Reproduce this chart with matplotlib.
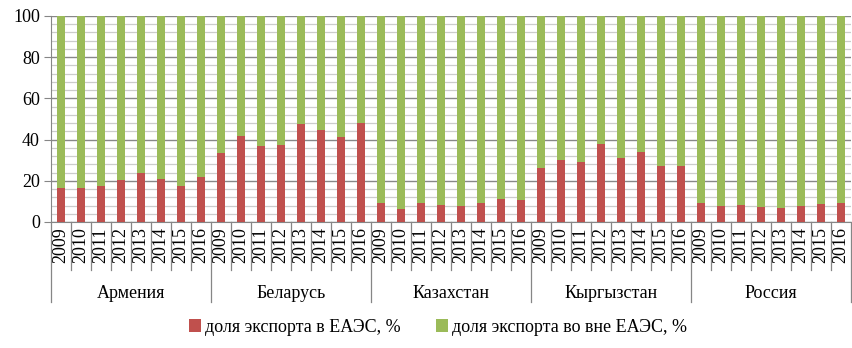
import matplotlib
matplotlib.use("Agg")
import matplotlib.pyplot as plt
from matplotlib.transforms import blended_transform_factory
from matplotlib.lines import Line2D
import numpy as np

countries = ["Армения", "Беларусь", "Казахстан", "Кыргызстан", "Россия"]
years = ["2009", "2010", "2011", "2012", "2013", "2014", "2015", "2016"]
armenia = [16.5, 16.5, 17.4, 20.2, 23.7, 20.8, 17.3, 21.8]
belarus = [33.5, 41.8, 37.0, 37.2, 47.6, 44.7, 41.2, 48.1]
kazakhstan = [9.4, 6.1, 9.4, 8.2, 7.9, 9.0, 11.1, 10.7]
kyrgyzstan = [26.3, 30.2, 29.2, 37.9, 31.0, 34.1, 27.3, 27.1]
russia = [9.0, 7.7, 8.1, 7.4, 6.9, 7.6, 8.6, 9.4]
series_in = "доля экспорта в ЕАЭС, %"
series_out = "доля экспорта во вне ЕАЭС, %"

inside = np.array(armenia + belarus + kazakhstan + kyrgyzstan + russia)
outside = 100 - inside
n = len(inside)
x = np.arange(n)

plt.rcParams['font.family'] = ['Liberation Serif', 'DejaVu Serif']
fig = plt.figure(figsize=(8.52, 3.48), dpi=100)
ax = fig.add_axes([51/852, (348-222)/348, (851-51)/852, 206/348])

red = "#C0504D"
green = "#9BBB59"
ax.bar(x, inside, width=0.37, color=red, label=series_in, zorder=3)
ax.bar(x, outside, width=0.37, bottom=inside, color=green, label=series_out, zorder=3)

ax.set_xlim(-0.5, n - 0.5)
ax.set_ylim(0, 100)
ax.set_yticks(np.arange(0, 101, 20))
ax.set_yticks(np.arange(0, 101, 4), minor=True)
ax.tick_params(axis='y', which='major', labelsize=13, length=5, color="#868686", pad=3)
ax.tick_params(axis='y', which='minor', length=0)
ax.set_xticks([])
ax.grid(axis='y', which='major', color="#888888", linewidth=1.0, zorder=0)
ax.grid(axis='y', which='minor', color="#cccccc", linewidth=0.9, zorder=0)
for s in ["top", "right"]:
    ax.spines[s].set_visible(False)
ax.spines["left"].set_color("#868686")
ax.spines["bottom"].set_color("#868686")

trans = blended_transform_factory(ax.transData, ax.transAxes)
year_bottom = (222 - 270) / 206
country_bottom = (222 - 302) / 206
ny = len(years)
for i in range(n):
    ax.text(x[i], -0.025, years[i % ny], transform=trans, rotation=90,
            ha='center', va='top', fontsize=13)
for b in range(n + 1):
    pos = b - 0.5
    bottom = country_bottom if b % ny == 0 else year_bottom
    ax.add_line(Line2D([pos, pos], [0, bottom], transform=trans,
                       color="#868686", linewidth=0.9, clip_on=False))
for c, name in enumerate(countries):
    ax.text(c * ny + (ny - 1) / 2, (222 - 293) / 206, name, transform=trans,
            ha='center', va='center', fontsize=13)

fig.legend(loc='center', bbox_to_anchor=(0.514, (348 - 327) / 348), ncol=2,
           frameon=False, fontsize=13, handlelength=0.7, handleheight=0.7,
           handletextpad=0.2, columnspacing=1.95)

fig.savefig("out.png", dpi=100)
